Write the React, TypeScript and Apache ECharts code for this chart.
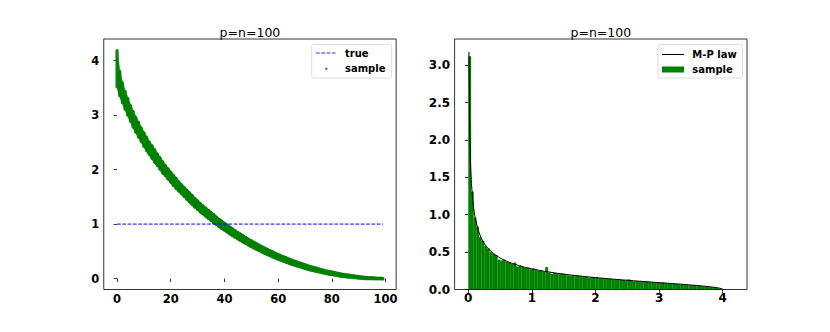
import { useEffect, useRef } from "react";
import * as echarts from "echarts";

// ---- left panel: sorted sample eigenvalues (centre and half-range of the cloud per index)
const sampleMid = [
  3.85, 3.58, 3.41, 3.27, 3.15, 3.03, 2.92, 2.82, 2.73, 2.64,
  2.55, 2.47, 2.39, 2.32, 2.25, 2.18, 2.11, 2.04, 1.98, 1.92,
  1.86, 1.80, 1.745, 1.69, 1.64, 1.59, 1.54, 1.49, 1.44, 1.39,
  1.35, 1.30, 1.26, 1.22, 1.18, 1.14, 1.10, 1.06, 1.02, 0.986,
  0.952, 0.918, 0.884, 0.85, 0.817, 0.787, 0.757, 0.727, 0.697, 0.667,
  0.641, 0.614, 0.588, 0.562, 0.536, 0.511, 0.489, 0.466, 0.444, 0.421,
  0.398, 0.379, 0.36, 0.341, 0.322, 0.303, 0.284, 0.268, 0.252, 0.237,
  0.221, 0.205, 0.19, 0.177, 0.165, 0.153, 0.14, 0.128, 0.115, 0.106,
  0.097, 0.088, 0.078, 0.069, 0.06, 0.053, 0.047, 0.041, 0.035, 0.029,
  0.023, 0.018, 0.014, 0.01, 0.0075, 0.005, 0.003, 0.0015, 0.0006, 0.0001,
];
const sampleSpread = [
  0.33, 0.22, 0.18, 0.16, 0.15, 0.14, 0.14, 0.13, 0.13, 0.12,
  0.12, 0.12, 0.11, 0.11, 0.11, 0.1, 0.1, 0.1, 0.09, 0.09,
  0.09, 0.09, 0.09, 0.08, 0.08, 0.08, 0.08, 0.08, 0.08, 0.075,
  0.075, 0.075, 0.07, 0.07, 0.07, 0.07, 0.07, 0.065, 0.065, 0.065,
  0.06, 0.06, 0.06, 0.06, 0.055, 0.055, 0.055, 0.055, 0.05, 0.05,
  0.05, 0.05, 0.048, 0.046, 0.045, 0.044, 0.043, 0.042, 0.041, 0.04,
  0.038, 0.037, 0.036, 0.035, 0.034, 0.033, 0.032, 0.031, 0.03, 0.03,
  0.029, 0.028, 0.027, 0.026, 0.025, 0.024, 0.023, 0.022, 0.021, 0.02,
  0.019, 0.018, 0.017, 0.016, 0.015, 0.014, 0.013, 0.012, 0.011, 0.01,
  0.009, 0.008, 0.007, 0.006, 0.005, 0.004, 0.003, 0.002, 0.001, 0.001,
];
const trueLevel = 1;
const trueRange = [0, 99];

// ---- right panel: histogram densities (bins start at 0) and M-P law curve
const histBinWidth = 0.0417;
const histDensity = [
  3.12, 1.31, 0.96, 0.84, 0.7, 0.65, 0.58, 0.55, 0.5, 0.48,
  0.46, 0.4, 0.39, 0.4, 0.37, 0.36, 0.34, 0.36, 0.31, 0.32,
  0.3, 0.29, 0.29, 0.27, 0.28, 0.26, 0.25, 0.25, 0.24, 0.3,
  0.225, 0.21, 0.22, 0.215, 0.205, 0.21, 0.2, 0.19, 0.185, 0.19,
  0.18, 0.18, 0.175, 0.172, 0.17, 0.158, 0.165, 0.158, 0.162, 0.15,
  0.148, 0.147, 0.14, 0.142, 0.136, 0.133, 0.132, 0.126, 0.127, 0.122,
  0.135, 0.116, 0.112, 0.114, 0.108, 0.107, 0.102, 0.108, 0.098, 0.097,
  0.092, 0.093, 0.088, 0.092, 0.082, 0.08, 0.079, 0.074, 0.074, 0.069,
  0.068, 0.064, 0.062, 0.058, 0.057, 0.058, 0.049, 0.047, 0.043, 0.04,
  0.033, 0.031, 0.026, 0.021, 0.014, 0.008, 0.005, 0.003, 0.002, 0.002,
];
const mpX = [
  0.01, 0.02, 0.03, 0.04, 0.05, 0.07, 0.1, 0.15, 0.2, 0.25, 0.3, 0.4, 0.5,
  0.6, 0.7, 0.8, 0.9, 1.0, 1.2, 1.4, 1.6, 1.8, 2.0, 2.2, 2.4, 2.6, 2.8,
  3.0, 3.2, 3.4, 3.6, 3.7, 3.8, 3.9, 3.95, 3.99, 4.0,
];
const mpY = [
  3.179, 2.245, 1.831, 1.584, 1.415, 1.193, 0.994, 0.806, 0.694, 0.616, 0.559, 0.477, 0.421,
  0.379, 0.346, 0.318, 0.295, 0.276, 0.243, 0.217, 0.195, 0.176, 0.159, 0.144, 0.13, 0.117, 0.104,
  0.0919, 0.0796, 0.0669, 0.0531, 0.0453, 0.0365, 0.0255, 0.0179, 0.008, 0,
];

const titles = ["p=n=100", "p=n=100"];
const leftXTicks = [0, 20, 40, 60, 80, 100];
const leftYTicks = [0, 1, 2, 3, 4];
const rightXTicks = [0, 1, 2, 3, 4];
const rightYTicks = [0, 0.5, 1, 1.5, 2, 2.5, 3];

const FONT = "DejaVu Sans";
const GREEN = "#008000";

export default function App() {
  const ref = useRef<HTMLDivElement>(null);

  useEffect(() => {
    if (!ref.current) return;
    const chart = echarts.init(ref.current, undefined, { renderer: "svg" });

    const L1 = 103.75;
    const L2 = 454.6;
    const W = 292.4;
    const T = 39;
    const H = 250.5;

    const labelStyle = (size: number) => ({
      fontSize: size,
      fontWeight: "bold" as const,
      fontFamily: FONT,
      color: "#000",
    });
    const tick = (vals: number[]) => ({
      show: true,
      inside: false,
      length: 3.5,
      customValues: vals,
      lineStyle: { color: "#000", width: 0.8 },
    });

    const text = (x: number, y: number, s: string) => ({
      type: "text",
      x,
      y,
      z: 120,
      style: {
        text: s,
        fontSize: 10,
        fontWeight: "bold",
        fontFamily: FONT,
        fill: "#000",
        align: "left",
        verticalAlign: "middle",
      },
    });

    // band segments between consecutive indices
    const bandData = sampleMid.map((m, i) => {
      const j = Math.min(i + 1, sampleMid.length - 1);
      return [i, m - sampleSpread[i], m + sampleSpread[i], j, sampleMid[j] - sampleSpread[j], sampleMid[j] + sampleSpread[j]];
    });

    const option: any = {
      animation: false,
      backgroundColor: "#fff",
      grid: [
        { left: L1, top: T, width: W, height: H, show: false },
        { left: L2, top: T, width: W, height: H, show: false },
      ],
      xAxis: [
        {
          type: "value",
          gridIndex: 0,
          min: -4.95,
          max: 103.95,
          axisLine: { show: false },
          splitLine: { show: false },
          axisTick: tick(leftXTicks),
          axisLabel: { ...labelStyle(11.5), margin: 3, customValues: leftXTicks },
        },
        {
          type: "value",
          gridIndex: 1,
          min: -0.215,
          max: 4.382,
          axisLine: { show: false },
          splitLine: { show: false },
          axisTick: tick(rightXTicks),
          axisLabel: { ...labelStyle(12), margin: 2.5, customValues: rightXTicks },
        },
      ],
      yAxis: [
        {
          type: "value",
          gridIndex: 0,
          min: -0.2,
          max: 4.395,
          axisLine: { show: false },
          splitLine: { show: false },
          axisTick: tick(leftYTicks),
          axisLabel: { ...labelStyle(11.5), margin: 4.5, customValues: leftYTicks },
        },
        {
          type: "value",
          gridIndex: 1,
          min: 0,
          max: 3.35,
          axisLine: { show: false },
          splitLine: { show: false },
          axisTick: tick(rightYTicks),
          axisLabel: {
            ...labelStyle(12),
            margin: 4.5,
            customValues: rightYTicks,
            formatter: (v: number) => v.toFixed(1),
          },
        },
      ],
      series: [
        {
          type: "custom",
          name: "sample",
          xAxisIndex: 0,
          yAxisIndex: 0,
          data: bandData,
          encode: { x: [0, 3], y: [1, 2, 4, 5] },
          renderItem: (_p: any, api: any) => {
            const a0 = api.coord([api.value(0), api.value(1)]);
            const a1 = api.coord([api.value(0), api.value(2)]);
            const b0 = api.coord([api.value(3), api.value(4)]);
            const b1 = api.coord([api.value(3), api.value(5)]);
            const pad = 1.5;
            return {
              type: "group",
              children: [
                {
                  type: "polygon",
                  shape: {
                    points: [
                      [a0[0], a0[1] + pad],
                      [b0[0], b0[1] + pad],
                      [b1[0], b1[1] - pad],
                      [a1[0], a1[1] - pad],
                    ],
                  },
                  style: { fill: GREEN, stroke: GREEN, lineWidth: 0.6, opacity: 0.92 },
                },
                {
                  type: "rect",
                  shape: { x: a0[0] - 1.6, y: a1[1] - pad, width: 3.2, height: a0[1] - a1[1] + 2 * pad, r: 1.2 },
                  style: { fill: GREEN, opacity: 0.92 },
                },
              ],
            };
          },
          z: 2,
        },
        {
          type: "line",
          name: "true",
          xAxisIndex: 0,
          yAxisIndex: 0,
          data: trueRange.map((x) => [x, trueLevel]),
          symbol: "none",
          lineStyle: { color: "#0000ff", width: 1, type: [3.7, 1.6] },
          z: 3,
        },
        {
          type: "custom",
          name: "hist",
          xAxisIndex: 1,
          yAxisIndex: 1,
          data: histDensity.map((d, k) => [k * histBinWidth, (k + 1) * histBinWidth, d]),
          encode: { x: [0, 1], y: 2 },
          renderItem: (_p: any, api: any) => {
            const p0 = api.coord([api.value(0), api.value(2)]);
            const p1 = api.coord([api.value(1), 0]);
            return {
              type: "rect",
              shape: { x: p0[0], y: p0[1], width: p1[0] - p0[0] + 0.2, height: p1[1] - p0[1] },
              style: { fill: GREEN, stroke: "rgba(150,210,150,0.18)", lineWidth: 0.25 },
            };
          },
          z: 2,
        },
        {
          type: "line",
          name: "M-P law",
          xAxisIndex: 1,
          yAxisIndex: 1,
          data: mpX.map((x, i) => [x, mpY[i]]),
          symbol: "none",
          lineStyle: { color: "#000", width: 1 },
          z: 3,
        },
      ],
      graphic: [
        // frames
        { type: "rect", z: 100, shape: { x: L1, y: T, width: W, height: H }, style: { fill: "none", stroke: "#000", lineWidth: 0.8 } },
        { type: "rect", z: 100, shape: { x: L2, y: T, width: W, height: H }, style: { fill: "none", stroke: "#000", lineWidth: 0.8 } },
        // titles
        { type: "text", x: L1 + W / 2, y: 32.5, z: 120, style: { text: titles[0], fontSize: 12.5, fontFamily: FONT, fill: "#000", align: "center", verticalAlign: "middle" } },
        { type: "text", x: L2 + W / 2, y: 32.5, z: 120, style: { text: titles[1], fontSize: 12.5, fontFamily: FONT, fill: "#000", align: "center", verticalAlign: "middle" } },
        // left legend
        { type: "rect", z: 110, shape: { x: 311.7, y: 44.5, width: 79.9, height: 33.5, r: 2 }, style: { fill: "rgba(255,255,255,0.85)", stroke: "#d6d6d6", lineWidth: 0.8 } },
        { type: "line", z: 120, shape: { x1: 316, y1: 53, x2: 337, y2: 53 }, style: { stroke: "#2233ff", lineWidth: 1, lineDash: [3.7, 1.6] } },
        text(345, 53.5, "true"),
        { type: "circle", z: 120, shape: { cx: 326.3, cy: 68.8, r: 1.3 }, style: { fill: GREEN, opacity: 0.8 } },
        text(345, 68.8, "sample"),
        // right legend
        { type: "rect", z: 110, shape: { x: 658, y: 44.5, width: 84.5, height: 33.5, r: 2 }, style: { fill: "rgba(255,255,255,0.85)", stroke: "#d6d6d6", lineWidth: 0.8 } },
        { type: "rect", z: 120, shape: { x: 662, y: 54, width: 22, height: 1 }, style: { fill: "#000" } },
        text(692.3, 54, "M-P law"),
        { type: "rect", z: 120, shape: { x: 662, y: 66.5, width: 22, height: 6 }, style: { fill: GREEN } },
        text(692.3, 69.4, "sample"),
      ],
    };

    chart.setOption(option);
    return () => chart.dispose();
  }, []);

  return (
    <div
      ref={ref}
      style={{ position: "absolute", left: 0, top: 0, width: 830, height: 332, background: "#fff" }}
    />
  );
}
